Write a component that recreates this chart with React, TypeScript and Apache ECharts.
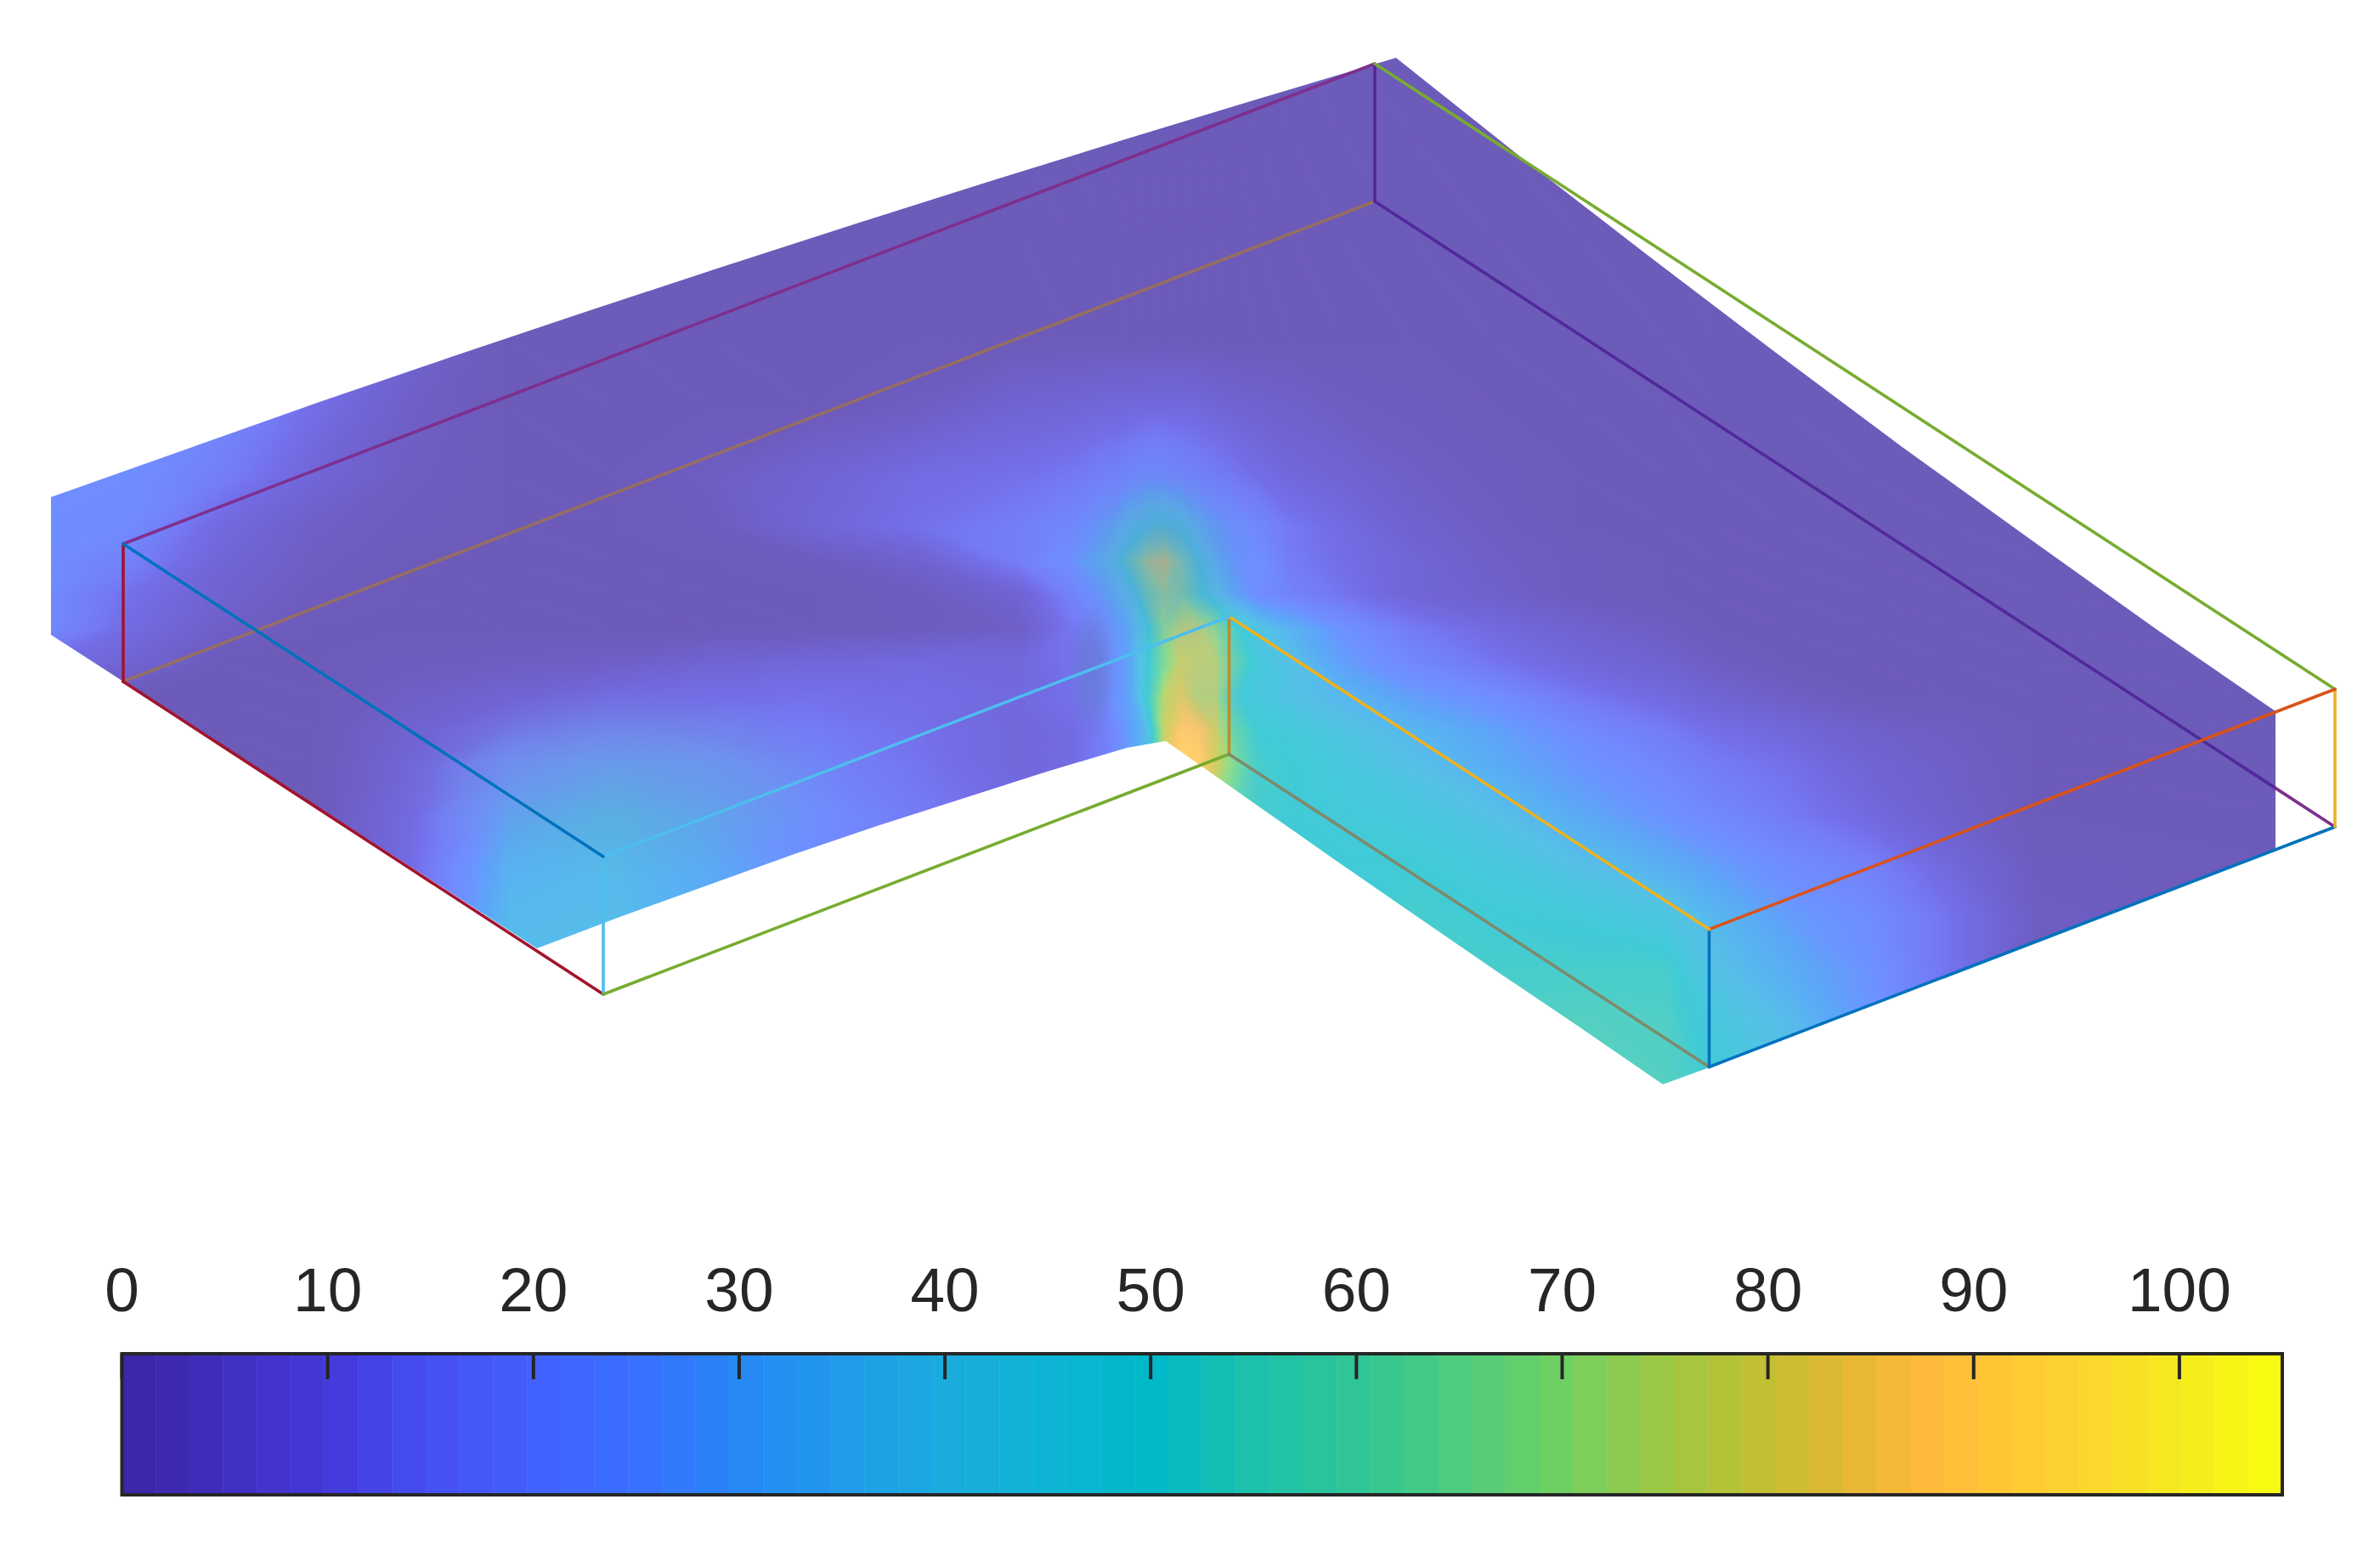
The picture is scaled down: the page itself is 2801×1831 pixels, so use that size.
import React, { useEffect, useRef } from "react";
import * as echarts from "echarts";

// ---- colour scale (value -> colour)
const scaleValues = [0, 5, 11, 15, 21, 25, 30, 35, 40, 45, 50, 55, 60, 65, 70, 75, 80, 85, 88, 92, 96, 100, 105];
const scaleColors = [
  [60, 36, 162], [64, 46, 192], [68, 60, 222], [70, 80, 242], [65, 100, 255], [58, 112, 255], [38, 136, 245],
  [32, 155, 235], [28, 172, 222], [14, 180, 212], [0, 185, 200], [28, 192, 172], [48, 197, 150], [78, 204, 125],
  [112, 208, 98], [158, 200, 68], [196, 190, 48], [236, 182, 52], [255, 186, 58], [255, 200, 52], [250, 216, 44],
  [245, 235, 30], [250, 253, 15],
];
const colorbarTicks = [0, 10, 20, 30, 40, 50, 60, 70, 80, 90, 100];
const colorbarMax = 105;
const colorbarLevels = 64;
const surfaceAlpha = 0.75;

// ---- L-shaped frame: model edges [from x,y,z], [to x,y,z], colour
const edgeRows: [number[], number[], string][] = [
  [[0, 0, 1], [2, 0, 1], "#966E62"],
  [[2, 0, 1], [2, 1.876, 1], "#4F2A9C"],
  [[2, 1.876, 1], [2, 2, 1], "#7E2F8E"],
  [[2, 0, 0], [2, 0, 1], "#58249A"],
  [[0, 0, 0], [0, 0, 1], "#A2142F"],
  [[0, 0, 1], [0, 1, 1], "#A2142F"],
  [[0, 1, 0], [0, 1, 1], "#4DBEEE"],
  [[0, 1, 1], [1, 1, 1], "#77AC30"],
  [[1, 1, 0], [1, 1, 1], "#BD8C2C"],
  [[1, 1, 1], [1, 2, 1], "#7E8A6C"],
  [[1, 2, 0], [1, 2, 1], "#0072BD"],
  [[1, 2, 1], [2, 2, 1], "#0072BD"],
  [[2, 2, 0], [2, 2, 1], "#EDB120"],
  [[0, 0, 0], [2, 0, 0], "#7E2F8E"],
  [[2, 0, 0], [2, 2, 0], "#77AC30"],
  [[2, 2, 0], [1, 2, 0], "#D95319"],
  [[1, 2, 0], [1, 1, 0], "#EDB120"],
  [[1, 1, 0], [0, 1, 0], "#4DBEEE"],
  [[0, 1, 0], [0, 0, 0], "#0072BD"],
];
const projectOrigin = [145, 640];
const projectX = [736.5, -282.5];
const projectY = [565, 368];
const projectZ = [0, 162];

// ---- outline of the coloured body
const bodyX = [60, 60, 632, 732, 832, 932, 1032, 1132, 1232, 1326, 1372, 1470, 1567, 1664, 1760, 1858, 1957, 2012, 2678, 2678, 2540, 2390, 2240, 2090, 1940, 1790, 1643, 1482, 1324, 1166, 1008, 850, 692, 534, 376, 218];
const bodyY = [585, 747, 1116, 1078, 1042, 1006, 972, 940, 908, 880, 872, 941, 1009, 1076, 1142, 1208, 1276, 1256, 1000, 837, 742, 635, 527, 415, 301, 185, 68, 116, 164, 213, 263, 314, 366, 419, 473, 529];

// ---- sampled field over the picture (rows of gridY, columns of gridX)
const gridX = [40, 150, 260, 370, 480, 600, 720, 840, 960, 1080, 1200, 1260, 1300, 1330, 1350, 1370, 1390, 1410, 1430, 1450, 1480, 1520, 1580, 1660, 1760, 1860, 1960, 2020, 2100, 2200, 2300, 2400, 2700];
const gridY = [40, 160, 280, 400, 480, 560, 620, 660, 700, 740, 780, 820, 860, 900, 960, 1020, 1080, 1140, 1200, 1290];
const field: number[][] = [
  [],
  [],
  [],
  [22, 22, 22, 18, 6],
  [22, 22, 20, 11, 3, 0, 0, 0, 0, 2, 6, 7, 8, 8, 9, 9, 9, 8, 7, 6, 5, 4, 2, 1],
  [22, 22, 16, 7, 2, 0, 0, 2, 6, 10, 12, 14, 17, 20, 22, 22, 20, 18, 16, 14, 11, 8, 6, 3, 1],
  [22, 21, 9, 3, 1, 0, 0, 1, 7, 12, 16, 20, 29, 42, 50, 53, 47, 37, 29, 25, 20, 14, 10, 5, 2],
  [22, 17, 7, 2, 0, 0, 0, 0, 1, 5, 16, 24, 36, 58, 74, 80, 66, 50, 36, 27, 23, 15, 11, 7, 3, 1],
  [22, 12, 5, 1, 0, 0, 0, 0, 0, 1, 6, 17, 28, 42, 60, 70, 66, 54, 42, 32, 22, 18, 13, 7, 4, 1],
  [22, 10, 3, 0, 0, 0, 0, 0, 0, 1, 3, 13, 22, 32, 48, 68, 76, 76, 68, 54, 42, 34, 24, 15, 9, 5, 2],
  [12, 6, 0, 0, 1, 2, 3, 6, 8, 9, 8, 13, 20, 30, 48, 66, 78, 76, 75, 60, 47, 40, 28, 20, 13, 8, 5, 2],
  [0, 0, 0, 0, 3, 6, 10, 11, 12, 11, 9, 12, 20, 30, 50, 76, 82, 74, 74, 52, 46, 41, 36, 28, 22, 14, 9, 6, 3],
  [0, 0, 0, 0, 5, 12, 16, 15, 15, 12, 8, 10, 16, 28, 38, 78, 88, 88, 80, 62, 50, 48, 43, 36, 29, 21, 15, 11, 8, 4, 2],
  [0, 0, 0, 0, 7, 20, 25, 23, 18, 13, 8, 10, 16, 28, 38, 82, 90, 90, 80, 68, 52, 50, 46, 40, 32, 25, 19, 15, 12, 6, 3],
  [0, 0, 0, 0, 9, 28, 33, 28, 22, 15, 10, 12, 16, 28, 38, 70, 80, 80, 70, 60, 52, 50, 48, 46, 40, 31, 24, 20, 15, 9, 4],
  [0, 0, 0, 0, 10, 34, 37, 31, 22, 15, 10, 12, 16, 28, 38, 60, 60, 60, 60, 55, 50, 50, 50, 50, 46, 40, 33, 28, 22, 17, 8, 1],
  [0, 0, 0, 0, 10, 37, 38, 32, 22, 15, 10, 12, 16, 28, 38, 50, 50, 50, 50, 50, 50, 50, 50, 52, 50, 48, 44, 36, 28, 22, 12, 2],
  [0, 0, 0, 0, 10, 38, 38, 32, 20, 15, 10, 12, 16, 28, 38, 50, 50, 50, 50, 50, 50, 50, 50, 52, 52, 52, 52, 40, 33, 24, 12],
  [0, 0, 0, 0, 10, 38, 38, 30, 20, 15, 10, 12, 16, 28, 38, 50, 50, 50, 50, 50, 50, 50, 50, 52, 54, 55, 54, 45, 38, 26, 12],
  [0, 0, 0, 0, 10, 36, 38, 30, 20, 15, 10, 12, 16, 28, 38, 50, 50, 50, 50, 50, 50, 50, 50, 52, 54, 55, 55, 50, 42, 28, 12],
];

// ---- soft patches where a second layer shows through: x, y, radii, tint, opacity
const hazeX = [1365, 735, 1285, 1420];
const hazeY = [640, 925, 790, 800];
const hazeRx = [125, 265, 30, 50];
const hazeRy = [135, 115, 80, 90];
const hazeTint = ["100,120,220", "95,175,170", "90,110,170", "190,170,170"];
const hazeOpacity = [0.42, 0.28, 0.4, 0.22];

const valueAt = (col: number, row: number) => field[row][col] ?? 0;

function scaleRgb(v: number): number[] {
  const t = Math.max(0, Math.min(colorbarMax, v));
  let k = 0;
  while (k < scaleValues.length - 2 && t > scaleValues[k + 1]) k++;
  const f = (t - scaleValues[k]) / (scaleValues[k + 1] - scaleValues[k]);
  return scaleColors[k].map((c, n) => c + (scaleColors[k + 1][n] - c) * f);
}
const rgbText = (c: number[]) => `rgb(${c.map((n) => Math.round(n)).join(",")})`;
function surfaceColor(v: number): string {
  return rgbText(scaleRgb(v).map((c) => c * surfaceAlpha + 255 * (1 - surfaceAlpha)));
}

function triangleElement(pts: number[][], vals: number[]) {
  const lo = Math.min(...vals);
  const hi = Math.max(...vals);
  let paint: any = surfaceColor(lo);
  if (hi - lo > 0.01) {
    const [a, b, c] = pts;
    const [va, vb, vc] = vals;
    const ux = b[0] - a[0], uy = b[1] - a[1], wx = c[0] - a[0], wy = c[1] - a[1];
    const det = ux * wy - uy * wx;
    const gx = ((vb - va) * wy - (vc - va) * uy) / det;
    const gy = ((vc - va) * ux - (vb - va) * wx) / det;
    const g2 = gx * gx + gy * gy;
    const start = pts[vals.indexOf(lo)];
    const span = (hi - lo) / g2;
    const count = Math.ceil((hi - lo) / 2.5) + 1;
    const stops = [];
    for (let n = 0; n <= count; n++) {
      const f = n / count;
      stops.push({ offset: f, color: surfaceColor(lo + (hi - lo) * f) });
    }
    paint = new echarts.graphic.LinearGradient(start[0], start[1], start[0] + gx * span, start[1] + gy * span, stops, true);
  }
  return {
    type: "polygon",
    shape: { points: pts },
    style: { fill: paint, stroke: paint, lineWidth: 1 },
    silent: true,
  };
}

function renderCell(_p: any, api: any) {
  const i = api.value(2);
  const j = api.value(3);
  const p00 = api.coord([gridX[i], gridY[j]]);
  const p10 = api.coord([gridX[i + 1], gridY[j]]);
  const p01 = api.coord([gridX[i], gridY[j + 1]]);
  const p11 = api.coord([gridX[i + 1], gridY[j + 1]]);
  const v00 = valueAt(i, j), v10 = valueAt(i + 1, j), v01 = valueAt(i, j + 1), v11 = valueAt(i + 1, j + 1);
  if (Math.abs(v00 - v11) <= Math.abs(v10 - v01)) {
    return { type: "group", children: [triangleElement([p00, p10, p11], [v00, v10, v11]), triangleElement([p00, p11, p01], [v00, v11, v01])] };
  }
  return { type: "group", children: [triangleElement([p00, p10, p01], [v00, v10, v01]), triangleElement([p10, p11, p01], [v10, v11, v01])] };
}

function renderHaze(_p: any, api: any) {
  const n = api.value(2);
  const c = api.coord([hazeX[n], hazeY[n]]);
  const tint = hazeTint[n];
  const o = hazeOpacity[n];
  const fill = new echarts.graphic.RadialGradient(0.5, 0.5, 0.5, [
    { offset: 0, color: `rgba(${tint},${o})` },
    { offset: 0.5, color: `rgba(${tint},${o * 0.7})` },
    { offset: 1, color: `rgba(${tint},0)` },
  ]);
  return { type: "ellipse", shape: { cx: c[0], cy: c[1], rx: hazeRx[n], ry: hazeRy[n] }, style: { fill }, silent: true };
}

function project(m: number[]): number[] {
  return [
    projectOrigin[0] + m[0] * projectX[0] + m[1] * projectY[0] + m[2] * projectZ[0],
    projectOrigin[1] + m[0] * projectX[1] + m[1] * projectY[1] + m[2] * projectZ[1],
  ];
}

export default function App() {
  const ref = useRef<HTMLDivElement>(null);
  useEffect(() => {
    document.body.style.margin = "0";
    document.body.style.background = "#ffffff";
    const chart = echarts.init(ref.current!, null, { renderer: "svg" });

    const cells: number[][] = [];
    for (let j = 0; j < gridY.length - 1; j++) {
      for (let i = 0; i < gridX.length - 1; i++) cells.push([gridX[i], gridY[j], i, j]);
    }
    const bands: number[][] = [];
    for (let k = 0; k < colorbarLevels; k++) {
      bands.push([(k / colorbarLevels) * colorbarMax, ((k + 1) / colorbarLevels) * colorbarMax, ((k + 0.5) / colorbarLevels) * colorbarMax]);
    }

    const wire = edgeRows.map(([from, to, color]) => ({
      type: "line",
      xAxisIndex: 0,
      yAxisIndex: 0,
      z: 5,
      silent: true,
      clip: false,
      showSymbol: false,
      data: [project(from), project(to)],
      lineStyle: { color, width: 3.6, cap: "round" },
    }));

    chart.setOption({
      animation: false,
      backgroundColor: "#ffffff",
      grid: [
        { left: 0, top: 0, width: 2801, height: 1831 },
        { left: 143.5, top: 1593, width: 2542.5, height: 166 },
      ],
      xAxis: [
        { type: "value", gridIndex: 0, min: 0, max: 2801, show: false },
        {
          type: "value",
          gridIndex: 1,
          min: 0,
          max: colorbarMax,
          position: "top",
          z: 6,
          splitLine: { show: false },
          axisLine: { show: false },
          axisTick: { show: false },
          axisLabel: { show: true, fontFamily: "Liberation Sans", fontSize: 73, color: "#262626", margin: 39, customValues: colorbarTicks, hideOverlap: false },
        },
      ],
      yAxis: [
        { type: "value", gridIndex: 0, min: 0, max: 1831, inverse: true, show: false },
        { type: "value", gridIndex: 1, min: 0, max: 1, show: false },
      ],
      series: [
        {
          type: "custom",
          xAxisIndex: 0,
          yAxisIndex: 0,
          z: 1,
          silent: true,
          clip: false,
          encode: { x: 0, y: 1 },
          data: cells,
          renderItem: renderCell,
        },
        {
          type: "custom",
          xAxisIndex: 0,
          yAxisIndex: 0,
          z: 2,
          silent: true,
          clip: false,
          encode: { x: 0, y: 1 },
          data: hazeX.map((x, n) => [x, hazeY[n], n]),
          renderItem: renderHaze,
        },
        {
          type: "custom",
          xAxisIndex: 0,
          yAxisIndex: 0,
          z: 3,
          silent: true,
          clip: false,
          encode: { x: 0, y: 1 },
          data: [[0, 0]],
          renderItem: (_p: any, api: any) => {
            const outer = [[0, bodyY[0]], [0, 0], [2801, 0], [2801, 1570], [0, 1570], [0, bodyY[0]]];
            const hole = bodyX.map((x, n) => [x, bodyY[n]]);
            const ring = [...outer, ...hole, hole[0], outer[0]].map((p) => api.coord(p));
            return { type: "polygon", shape: { points: ring }, style: { fill: "#ffffff", stroke: "none" }, silent: true };
          },
        },
        ...wire,
        {
          type: "custom",
          xAxisIndex: 1,
          yAxisIndex: 1,
          z: 3,
          silent: true,
          encode: { x: [0, 1] },
          data: bands,
          renderItem: (_p: any, api: any) => {
            const a = api.coord([api.value(0), 1]);
            const b = api.coord([api.value(1), 0]);
            const fill = rgbText(scaleRgb(api.value(2)));
            return { type: "rect", shape: { x: a[0], y: a[1], width: b[0] - a[0], height: b[1] - a[1] }, style: { fill, stroke: fill, lineWidth: 0.5 }, silent: true };
          },
        },
        {
          type: "custom",
          xAxisIndex: 1,
          yAxisIndex: 1,
          z: 6,
          silent: true,
          clip: false,
          encode: { x: 0 },
          data: colorbarTicks.map((t) => [t]),
          renderItem: (_p: any, api: any) => {
            const a = api.coord([api.value(0), 1]);
            return { type: "line", shape: { x1: a[0], y1: a[1], x2: a[0], y2: a[1] + 30 }, style: { stroke: "#262626", lineWidth: 4 }, silent: true };
          },
        },
        {
          type: "custom",
          xAxisIndex: 1,
          yAxisIndex: 1,
          z: 7,
          silent: true,
          clip: false,
          encode: { x: 0 },
          data: [[0, colorbarMax]],
          renderItem: (_p: any, api: any) => {
            const a = api.coord([api.value(0), 1]);
            const b = api.coord([api.value(1), 0]);
            return { type: "rect", shape: { x: a[0], y: a[1], width: b[0] - a[0], height: b[1] - a[1] }, style: { fill: "none", stroke: "#262626", lineWidth: 4 }, silent: true };
          },
        },
      ],
    });
    return () => chart.dispose();
  }, []);
  return <div ref={ref} style={{ position: "absolute", left: 0, top: 0, width: 2801, height: 1831 }} />;
}
